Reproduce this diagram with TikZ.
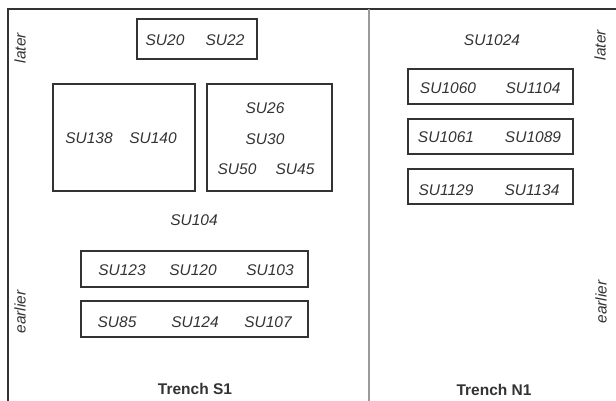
\documentclass[tikz,border=0pt]{standalone}
\usepackage{fontspec}
\setmainfont{Liberation Sans}
\usepackage{xcolor}
\usetikzlibrary{positioning}
\definecolor{ink}{HTML}{333333}
\definecolor{rule}{HTML}{9A9A9A}

\begin{document}
\begin{tikzpicture}[
  x=1pt, y=-1pt,
  su/.style     = {inner sep=0pt, text=ink,
                   font=\fontsize{15.5}{18}\selectfont\itshape},
  phase/.style  = {su, rotate=90},
  group/.style  = {draw=ink, line width=1.1pt, inner sep=0pt,
                   minimum height=36pt},
  trench/.style = {inner sep=0pt, text=ink,
                   font=\fontsize{15.5}{18}\selectfont\bfseries},
]

\useasboundingbox (0,0) rectangle (616,401);

\draw[ink, line width=1.2pt] (8,401) -- (8,9) -- (616,9);
\draw[rule, line width=2pt] (369,9) -- (369,401);

% Trench S1
\node[group, minimum width=120pt, minimum height=40pt] (g2022) at (197,39) {};
\node[su] (su20) at (165,40) {SU20};
\node[su] (su22) at (225,40) {SU22};

\node[group, minimum width=142pt, minimum height=107pt] (g138) at (124,137.5) {};
\node[su] (su138) at (89,138)  {SU138};
\node[su] (su140) at (153,138) {SU140};

\node[group, minimum width=125pt, minimum height=107pt] (g26) at (269.5,137.5) {};
\node[su] (su26) at (265,108) {SU26};
\node[su] (su30) at (265,139) {SU30};
\node[su] (su50) at (237,169) {SU50};
\node[su] (su45) at (295,169) {SU45};

\node[su] (su104) at (194,220) {SU104};

\node[group, minimum width=227pt] (g123) at (194.5,269) {};
\node[su] (su123) at (122,270) {SU123};
\node[su] (su120) at (193,270) {SU120};
\node[su] (su103) at (270,270) {SU103};

\node[group, minimum width=227pt] (g85) at (194.5,319) {};
\node[su] (su85)  at (117,322) {SU85};
\node[su] (su124) at (195,322) {SU124};
\node[su] (su107) at (268,322) {SU107};

\node[phase] (laterS)   at (20,48)  {later};
\node[phase] (earlierS) at (20,312) {earlier};
\node[trench] (trS1) at (195,389) {Trench S1};

% Trench N1
\node[su] (su1024) at (492,40) {SU1024};

\node[group, minimum width=165pt, minimum height=35pt] (g1060) at (490.5,86.5) {};
\node[su] (su1060) at (448,88) {SU1060};
\node[su] (su1104) at (533,88) {SU1104};

\node[group, minimum width=165pt, minimum height=35pt] (g1061) at (490.5,136.5) {};
\node[su] (su1061) at (446,137) {SU1061};
\node[su] (su1089) at (533,137) {SU1089};

\node[group, minimum width=165pt, minimum height=35pt] (g1129) at (490.5,186.5) {};
\node[su] (su1129) at (446,190) {SU1129};
\node[su] (su1134) at (532,190) {SU1134};

\node[phase] (laterN)   at (600,45)  {later};
\node[phase] (earlierN) at (601,302) {earlier};
\node[trench] (trN1) at (494,390) {Trench N1};

\end{tikzpicture}
\end{document}
